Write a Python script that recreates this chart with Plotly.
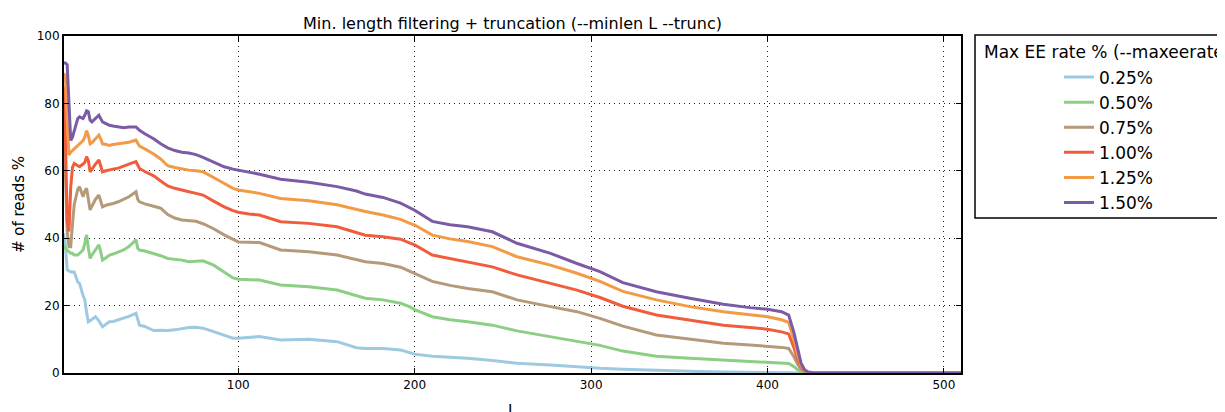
import plotly.graph_objects as go

# ---- data ----
L = [1, 2, 3, 4, 5, 6, 7, 9, 10, 12, 13, 14, 15, 16, 17, 19, 21, 22, 23, 25,
     27, 29, 32, 35, 38, 42, 43, 44, 47, 52, 56, 60, 64, 68, 72, 76, 80, 86, 92, 97,
     100, 106, 112, 124, 140, 156, 167, 172, 182, 192, 197, 200, 210, 220, 230, 244, 258, 277, 292, 305,
     318, 337, 356, 375, 390, 400, 408, 412, 415, 417, 419, 421, 423, 426, 430, 510]

rate_labels = ["0.25%", "0.50%", "0.75%", "1.00%", "1.25%", "1.50%"]

reads_025 = [41.5, 38, 30.6, 30.3, 30, 30, 30, 27, 26.6, 23, 21.7, 18, 15.2, 15.5, 16, 16.7, 15.5, 14.5, 13.7, 14.5,
             15.2, 15.3, 15.8, 16.2, 16.8, 17.7, 15.5, 14.2, 13.8, 12.6, 12.7, 12.6, 12.8, 13.2, 13.5, 13.6, 13.3, 12.3, 11.2, 10.3,
             10.3, 10.6, 10.8, 9.8, 10, 9.3, 7.5, 7.3, 7.3, 6.8, 6, 5.6, 5, 4.7, 4.4, 3.7, 2.9, 2.4, 1.8, 1.4,
             1.1, 0.7, 0.5, 0.3, 0.25, 0.2, 0.15, 0.15, 0.1, 0.05, 0.02, 0, 0, 0, 0, 0]

reads_050 = [38, 37, 36.5, 36, 35.5, 35.5, 35, 35, 35.5, 36.5, 38.5, 41, 37, 34, 35, 36.5, 38, 36, 33.5, 34.2,
             35, 35.3, 35.8, 36.5, 37.5, 39.5, 37, 36.5, 36.2, 35.5, 34.8, 34, 33.8, 33.5, 33, 33.2, 33.3, 32, 30, 28.2,
             27.8, 27.7, 27.6, 26.1, 25.6, 24.6, 23, 22.2, 21.7, 20.7, 19.7, 18.8, 16.7, 15.8, 15.2, 14.2, 12.5, 10.8, 9.3, 8.2,
             6.5, 5, 4.4, 3.8, 3.4, 3.2, 2.9, 2.8, 1.9, 1.0, 0.4, 0.15, 0.05, 0, 0, 0]

reads_075 = [77, 60, 42, 37.5, 37.5, 44, 50, 54.5, 55.3, 52.3, 54, 54.8, 51, 48.4, 49.5, 51.5, 52.8, 51, 49.3, 49.8,
             50, 50.3, 50.8, 51.5, 52.3, 53.8, 51.5, 50.8, 50.2, 49.5, 48.9, 47, 46, 45.4, 45.3, 45, 44.3, 42.8, 41, 39.6,
             38.9, 38.8, 38.7, 36.5, 36, 35, 33.5, 33, 32.5, 31.4, 30.2, 29.5, 27.2, 26, 25.1, 24.1, 21.7, 19.7, 18.2, 16.2,
             13.9, 11.3, 10, 8.8, 8.3, 8, 7.6, 7.3, 4.8, 2.7, 1.1, 0.4, 0.1, 0, 0, 0]

reads_100 = [85, 70, 45, 42, 55, 61, 62.2, 61.5, 61.2, 62, 62.5, 64.2, 63, 59.7, 60.5, 62, 63.2, 61.5, 59.7, 60,
             60.3, 60.5, 60.8, 61.3, 62, 62.7, 61.5, 60.7, 59.8, 58.5, 57, 55.5, 54.8, 54.2, 53.8, 53.3, 52.8, 51, 49.3, 48.2,
             47.7, 47.2, 46.9, 44.9, 44.4, 43.4, 41.8, 40.9, 40.4, 39.7, 38.6, 38, 35, 34, 33, 31.5, 29.1, 26.6, 24.6, 22.4,
             19.8, 17.2, 15.7, 14.2, 13.5, 13, 12.2, 11.6, 7.5, 4.2, 1.8, 0.6, 0.15, 0.05, 0, 0]

reads_125 = [89, 88, 75, 64.7, 65.5, 66, 66.5, 67.5, 68, 69, 70, 71.9, 70.5, 68, 68.3, 69.5, 70.6, 69.5, 68, 67.8,
             67.5, 67.8, 68, 68.3, 68.5, 69.1, 68, 67.3, 66.5, 65, 63.5, 61.5, 61, 60.5, 60.2, 60, 59.7, 58, 56.2, 54.8,
             54.3, 53.8, 53.3, 51.8, 51.1, 49.9, 48.5, 47.9, 46.9, 45.6, 44.5, 43.9, 40.9, 39.8, 39, 37.5, 34.5, 32, 29.6, 27.2,
             24.2, 21.7, 19.7, 18.2, 17.3, 16.7, 15.8, 15.0, 10, 5.5, 2.3, 0.8, 0.2, 0.05, 0, 0]

reads_150 = [92, 92, 91.5, 78, 69, 70, 72, 75.5, 76, 75.5, 76.5, 77.8, 77.5, 75, 74.5, 75.5, 76.5, 75.5, 74.5, 74,
             73.5, 73.3, 73, 72.8, 73, 73, 72.5, 72, 71, 69.5, 68, 66.8, 66, 65.5, 65.3, 64.8, 64, 62.5, 61.2, 60.5,
             60.2, 59.5, 59, 57.5, 56.6, 55.3, 54, 53.1, 52.1, 50.4, 49.2, 48.3, 45, 44, 43.4, 41.9, 38.5, 35.5, 32.5, 30.1,
             26.8, 24.1, 22.2, 20.4, 19.4, 18.9, 18.2, 17.2, 12, 7, 3, 1, 0.3, 0.1, 0, 0]

series = [reads_025, reads_050, reads_075, reads_100, reads_125, reads_150]
colors = ["#9ecae1", "#8ccf84", "#b59a7a", "#f15d3c", "#f39a45", "#7b5aa6"]

x_ticks = [100, 200, 300, 400, 500]
y_ticks = [0, 20, 40, 60, 80, 100]

# ---- layout geometry ----
# The page body has an 8px default margin, so the figure is drawn 8px
# right/down of the window origin; geometry below is in figure pixels.
OFF = 8
W, H = 1225 - OFF, 412 - OFF
ML, MR, MT, MB = 64 - OFF, 264, 36 - OFF, 39
PW = W - ML - MR
PH = H - MT - MB


def px(x):
    """window pixel x -> paper coordinate"""
    return (x - OFF - ML) / PW


def py(y):
    """window pixel y -> paper coordinate"""
    return (H - MB - (y - OFF)) / PH


FONT = "DejaVu Sans"

fig = go.Figure()
for name, vals, col in zip(rate_labels, series, colors):
    fig.add_trace(go.Scatter(x=L, y=vals, mode="lines", name=name,
                             line=dict(color=col, width=3)))

axis_common = dict(
    showline=True, linecolor="black", linewidth=2, mirror="ticks",
    ticks="inside", ticklen=5, tickwidth=1, tickcolor="black",
    showgrid=True, gridcolor="#222", gridwidth=1, griddash="1px,4px",
    zeroline=False, tickfont=dict(family=FONT, size=12, color="black"),
)

fig.update_layout(
    width=W, height=H,
    margin=dict(l=ML, r=MR, t=MT, b=MB, autoexpand=False),
    paper_bgcolor="white", plot_bgcolor="white",
    font=dict(family=FONT, color="black"),
    title=dict(text="Min. length filtering + truncation (--minlen L --trunc)",
               xref="paper", x=px(512.5), xanchor="center",
               yref="container", y=1 - (23 - OFF) / H, yanchor="middle",
               font=dict(family=FONT, size=16, color="black")),
    xaxis=dict(range=[1.2, 509.7], tickvals=x_ticks, **axis_common),
    yaxis=dict(range=[0, 100], tickvals=y_ticks,
               title=dict(text="# of reads %", font=dict(family=FONT, size=15), standoff=8),
               **axis_common),
    showlegend=True,
    legend=dict(x=px(1059), xanchor="left", y=py(59.5), yanchor="top",
                bgcolor="rgba(0,0,0,0)", borderwidth=0,
                font=dict(family=FONT, size=17, color="black")),
    shapes=[dict(type="rect", xref="paper", yref="paper",
                 x0=px(975), x1=px(1232), y0=py(35), y1=py(218),
                 line=dict(color="black", width=1.5), fillcolor="rgba(0,0,0,0)")],
    annotations=[
        dict(text="Max EE rate % (--maxeerate E)", xref="paper", yref="paper",
             x=px(982), y=py(52), xanchor="left", yanchor="middle", showarrow=False,
             font=dict(family=FONT, size=17, color="black")),
        dict(text="L", xref="paper", yref="paper", x=0.5, y=py(400), xanchor="center",
             yanchor="top", showarrow=False, font=dict(family=FONT, size=15, color="black")),
    ],
)

fig.write_html("out.html")
